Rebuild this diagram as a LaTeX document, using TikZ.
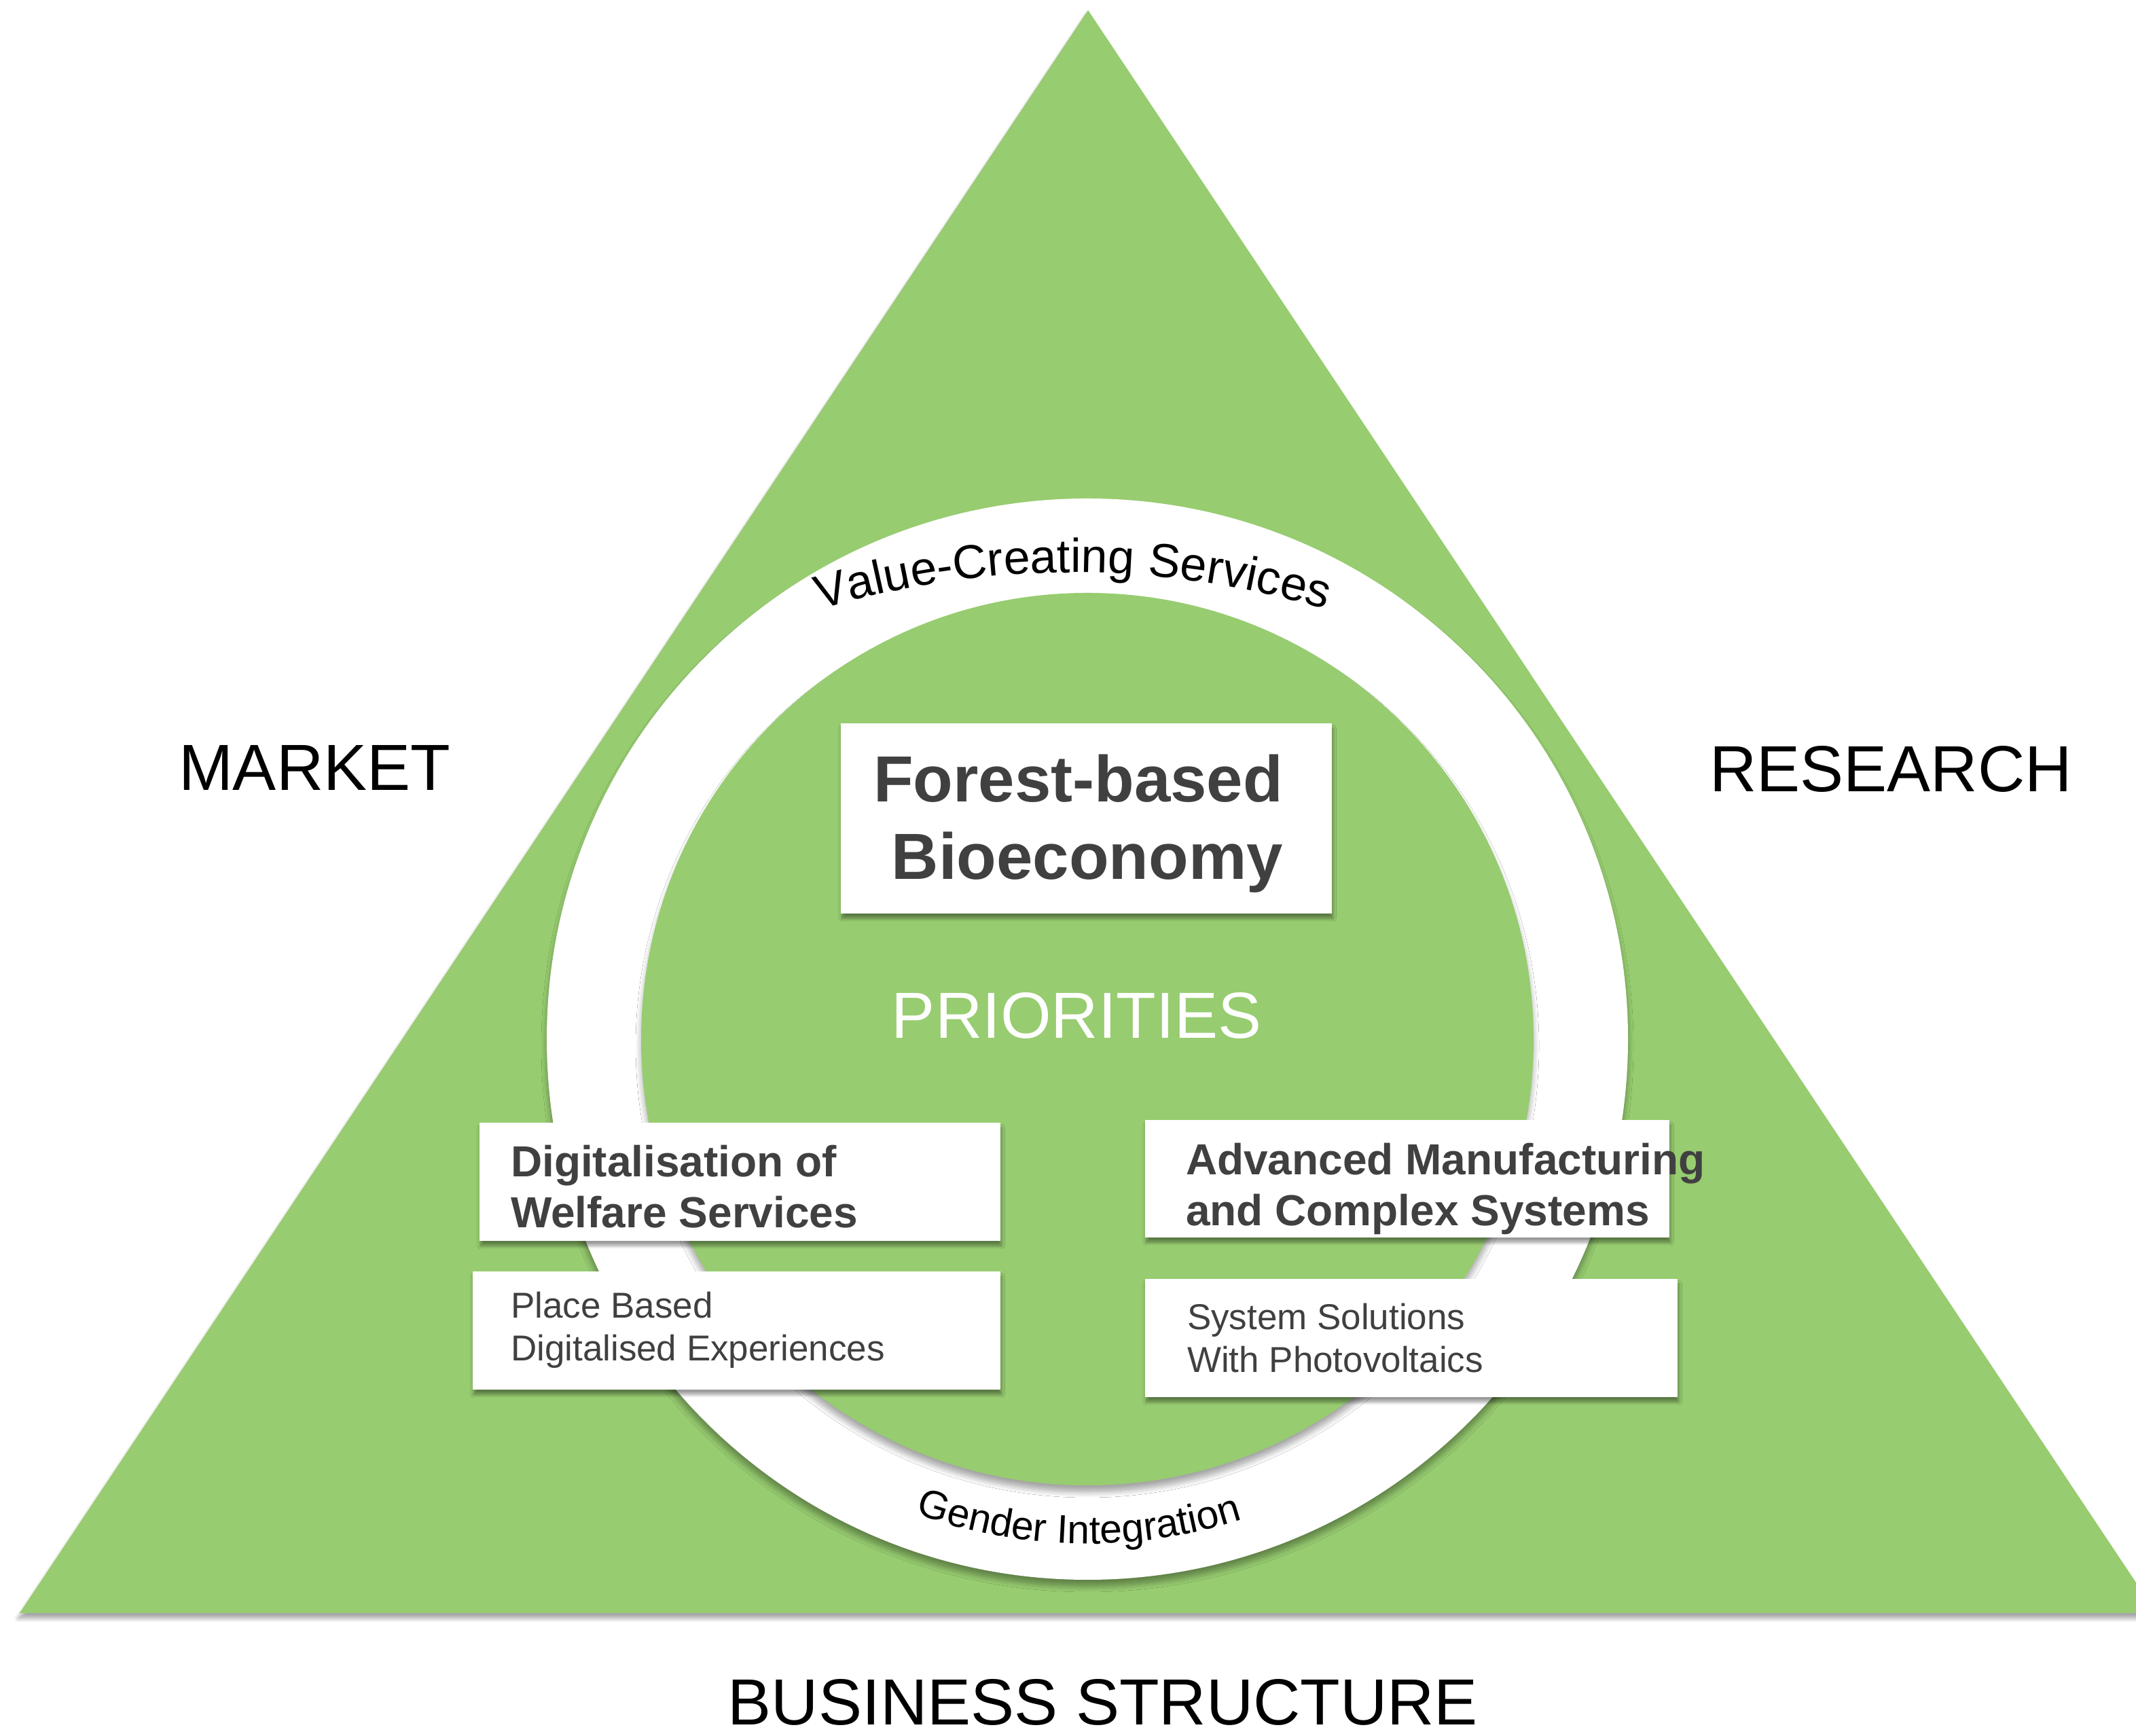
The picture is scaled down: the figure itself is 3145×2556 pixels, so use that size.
\documentclass[tikz,border=0pt]{standalone}
\usepackage{fontspec}
\setmainfont{Liberation Sans}
\usetikzlibrary{decorations.text,shadows.blur}
\definecolor{tri}{RGB}{151,204,112}
\definecolor{dgray}{RGB}{64,64,64}
\begin{document}
\begin{tikzpicture}[x=0.25pt,y=0.25pt,
  every node/.style={inner sep=0pt, outer sep=0pt},
  lbl/.style={font=\fontsize{24}{28}\selectfont, text=black},
  softshadow/.style={blur shadow={shadow xshift=0.4pt, shadow yshift=-1.8pt, shadow blur radius=1.2pt, shadow blur steps=8, shadow opacity=40}},
  wbox/.style={fill=white, draw=none, softshadow},
  boldtxt/.style={font=\fontsize{16}{18.75}\selectfont\bfseries, text=dgray, align=left, anchor=west},
  regtxt/.style={font=\fontsize{13.25}{15.75}\selectfont, text=dgray, align=left, anchor=west}
]
\useasboundingbox (0,0) rectangle (3145,2556);
\begin{scope}
  \clip (0,0) rectangle (3145,2556);
  \fill[tri, blur shadow={shadow xshift=-0.6pt, shadow yshift=-2pt, shadow blur radius=1.5pt, shadow blur steps=8, shadow opacity=35}] (1602,2541) -- (29,181) -- (3175,181) -- cycle;
\end{scope}
% ring
\fill[white, blur shadow={shadow xshift=0pt, shadow yshift=-2.5pt, shadow blur radius=2pt, shadow blur steps=8, shadow opacity=35}] (1601,1026) circle[radius=796];
\fill[tri, blur shadow={shadow xshift=0pt, shadow yshift=-2.5pt, shadow blur radius=2pt, shadow blur steps=8, shadow opacity=35}] (1601,1026) circle[radius=657];
% arc texts
\path[decorate, decoration={text along path, text align=center,
  text={|\fontsize{17.5}{20}\selectfont|Value-Creating Services}}]
  (1580,413) ++(110:1300) arc[start angle=110, end angle=70, radius=1300];
\path[decorate, decoration={text along path, text align=center,
  text={|\fontsize{14.7}{16}\selectfont|Gender Integration}}]
  (1601,1026) ++(240:743) arc[start angle=240, end angle=298, radius=743];
% outer labels
\node[lbl, anchor=base west] (market) at (263,1392) {MARKET};
\node[lbl, anchor=base] (research) at (2784,1390) {RESEARCH};
\node[lbl, anchor=base] (business) at (1624,16) {BUSINESS STRUCTURE};
% centre
\node[wbox, minimum width=180.75pt, minimum height=70pt] (forestbox) at (1599.5,1351) {};
\node[align=right, font=\fontsize{24}{28.5}\selectfont\bfseries, text=dgray] (forest) at (1587.5,1343) {Forest-based\\Bioeconomy};
\node[font=\fontsize{24}{28}\selectfont, text=white, anchor=base] (prio) at (1585,1027) {PRIORITIES};
% priority boxes
\node[wbox, minimum width=191.75pt, minimum height=43.5pt] (digibox) at (1089.5,816) {};
\node[boldtxt] (digi) at (752,809) {Digitalisation of\\Welfare Services};
\node[wbox, minimum width=194.25pt, minimum height=43.5pt] (placebox) at (1084.5,597) {};
\node[regtxt] (place) at (752,597.5) {Place Based\\Digitalised Experiences};
\node[wbox, minimum width=193pt, minimum height=43.25pt] (advbox) at (2072,820.5) {};
\node[boldtxt] (adv) at (1746,806) {Advanced Manufacturing\\and Complex Systems};
\node[wbox, minimum width=196pt, minimum height=43.5pt] (sysbox) at (2078,586) {};
\node[regtxt] (sys) at (1748,586) {System Solutions\\With Photovoltaics};
\end{tikzpicture}
\end{document}
